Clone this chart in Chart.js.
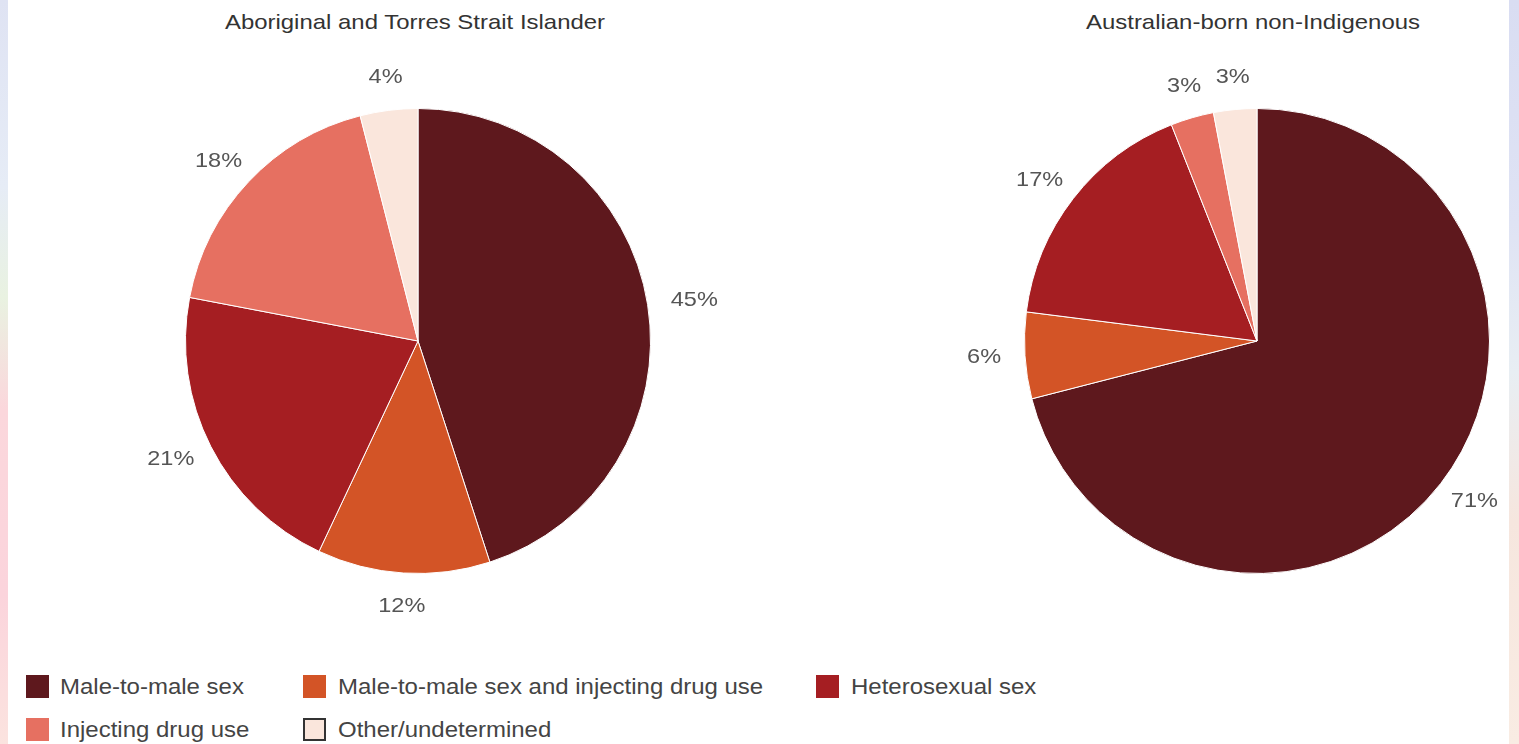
<!DOCTYPE html>
<html>
<head>
<meta charset="utf-8">
<script src="https://cdn.jsdelivr.net/npm/chart.js@4"></script>
<style>
  body { margin: 0; width: 1519px; height: 744px; position: relative; overflow: hidden;
         background: #fff; font-family: "Liberation Sans", Arial, sans-serif; }
  .edge { position: absolute; top: 0; height: 744px; }
  #edgeL { left: 0; width: 8px;
    background: linear-gradient(#dfe3f3 0%, #e6ecf6 25%, #e9f2e1 40%, #fbd7dc 55%, #fbd4dc 80%, #fbe3df 100%); }
  #edgeR { right: 0; width: 10px;
    background: linear-gradient(#d9ddf2 0%, #dfe3f4 30%, #e8eef3 50%, #f6e6de 70%, #f9ece3 100%); }
  .title { position: absolute; top: 10px; font-size: 21px; color: #333; text-align: center; width: 600px;
           transform: scaleX(1.14); transform-origin: center; }
  .pie { position: absolute; }
  .legend { position: absolute; font-size: 22px; color: #444; }
  .item { position: absolute; white-space: nowrap; }
  .box { position: absolute; left: 0; top: 0; width: 23px; height: 23px; box-sizing: border-box; }
  .item span { position: absolute; top: -1px; transform: scaleX(1.09); transform-origin: left; }
</style>
</head>
<body>
<div class="edge" id="edgeL"></div>
<div class="edge" id="edgeR"></div>
<div class="title" style="left:115px">Aboriginal and Torres Strait Islander</div>
<div class="title" style="left:953px">Australian-born non-Indigenous</div>
<canvas id="pie1" class="pie"></canvas>
<canvas id="pie2" class="pie"></canvas>
<div class="legend" id="legend"></div>
<script>
const categorie = ['Male-to-male sex', 'Male-to-male sex and injecting drug use',
  'Heterosexual sex', 'Injecting drug use', 'Other/undetermined'];
const colori = ['#5e181d', '#d35426', '#a51e22', '#e67061', '#fae6dc'];
const indigeni = [45, 12, 21, 18, 4];
const nonIndigeni = [71, 6, 17, 3, 3];

const R = 233;       // raggio torta
const HALF = 300;    // mezza dimensione canvas
const STRETCH = 1.12;

//etichette percentuali fuori dalla torta
const etichette = {
  id: 'etichette',
  afterDatasetsDraw(chart) {
    const ctx = chart.ctx;
    const meta = chart.getDatasetMeta(0);
    const valori = chart.data.datasets[0].data;
    ctx.save();
    ctx.font = '21px "Liberation Sans", Arial, sans-serif';
    ctx.fillStyle = '#555';
    ctx.textAlign = 'center';
    ctx.textBaseline = 'middle';
    meta.data.forEach((arc, i) => {
      const testo = valori[i] + '%';
      const a = (arc.startAngle + arc.endAngle) / 2;
      const r = arc.outerRadius + 24;
      const w = ctx.measureText(testo).width * STRETCH;
      const x = arc.x + Math.cos(a) * (r + w / 2 * Math.abs(Math.cos(a)));
      const y = arc.y + Math.sin(a) * (r + 9 * Math.abs(Math.sin(a)));
      ctx.save();
      ctx.translate(x, y);
      ctx.scale(STRETCH, 1);
      ctx.fillText(testo, 0, 0);
      ctx.restore();
    });
    ctx.restore();
  }
};

//crea una torta centrata in (cx, cy)
function creaTorta(id, valori, cx, cy) {
  const canvas = document.getElementById(id);
  canvas.style.left = (cx - HALF) + 'px';
  canvas.style.top = (cy - HALF) + 'px';
  canvas.width = HALF * 2;
  canvas.height = HALF * 2;
  canvas.style.width = HALF * 2 + 'px';
  canvas.style.height = HALF * 2 + 'px';
  return new Chart(canvas, {
    type: 'pie',
    data: {
      labels: categorie,
      datasets: [{
        data: valori,
        backgroundColor: colori,
        borderColor: '#ffffff',
        borderWidth: 1
      }]
    },
    options: {
      responsive: false,
      animation: false,
      layout: { padding: HALF - R },
      plugins: { legend: { display: false }, tooltip: { enabled: false } }
    },
    plugins: [etichette]
  });
}

//legenda html
function creaLegenda() {
  const pos = [[26, 675], [303, 675], [816, 675], [26, 718], [303, 718]];
  const leg = document.getElementById('legend');
  categorie.forEach((c, i) => {
    const it = document.createElement('div');
    it.className = 'item';
    it.style.left = pos[i][0] + 'px';
    it.style.top = pos[i][1] + 'px';
    const b = document.createElement('div');
    b.className = 'box';
    b.style.background = colori[i];
    if (i === 4) b.style.border = '2px solid #333';
    const s = document.createElement('span');
    s.style.left = (i === 0 || i === 3 ? 34 : 35) + 'px';
    s.textContent = c;
    it.append(b, s);
    leg.append(it);
  });
}

creaTorta('pie1', indigeni, 418, 341);
creaTorta('pie2', nonIndigeni, 1257, 341);
creaLegenda();
</script>
</body>
</html>
